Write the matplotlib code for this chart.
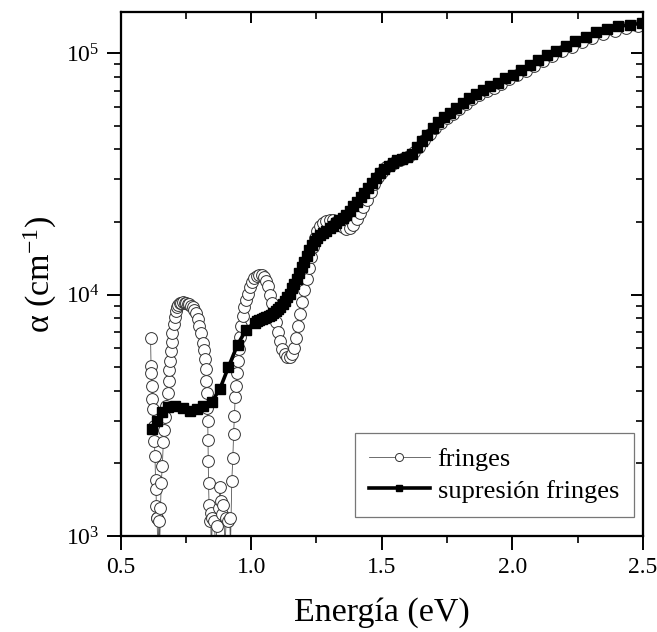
import matplotlib
matplotlib.use("Agg")
import matplotlib.pyplot as plt
from matplotlib.ticker import MultipleLocator, LogLocator, NullFormatter

plt.rcParams['font.family'] = ['Liberation Serif', 'DejaVu Serif']
plt.rcParams['mathtext.fontset'] = 'custom'
plt.rcParams['mathtext.rm'] = 'Liberation Serif'
plt.rcParams['mathtext.it'] = 'Liberation Serif:italic'
plt.rcParams['mathtext.bf'] = 'Liberation Serif:bold'

# ---- data: "fringes" (open circles) ----
fringes_E = [
    0.615, 0.617, 0.618, 0.620, 0.622, 0.624, 0.627, 0.630, 0.632, 0.634, 0.636, 0.637, 0.638,
    0.640, 0.643, 0.647, 0.650, 0.653, 0.656, 0.660, 0.664, 0.668, 0.672, 0.676, 0.680, 0.684,
    0.687, 0.690, 0.693, 0.696, 0.699, 0.703, 0.707, 0.712, 0.717, 0.722, 0.727, 0.733, 0.739,
    0.745, 0.751, 0.757, 0.763, 0.770, 0.776, 0.782, 0.788, 0.795, 0.801, 0.808, 0.815, 0.820,
    0.824, 0.827, 0.829, 0.831, 0.833, 0.834, 0.835, 0.836, 0.837, 0.839, 0.842, 0.845, 0.848,
    0.851, 0.858, 0.865, 0.869, 0.876, 0.881, 0.885, 0.888, 0.894, 0.900, 0.905, 0.912, 0.918,
    0.921, 0.926, 0.930, 0.933, 0.936, 0.939, 0.942, 0.945, 0.948, 0.952, 0.957, 0.962, 0.968,
    0.974, 0.981, 0.988, 0.995, 1.003, 1.012, 1.021, 1.030, 1.040, 1.049, 1.057, 1.065, 1.072,
    1.079, 1.087, 1.095, 1.103, 1.111, 1.120, 1.129, 1.138, 1.147, 1.156, 1.164, 1.172, 1.180,
    1.188, 1.196, 1.204, 1.212, 1.220, 1.228, 1.236, 1.245, 1.254, 1.264, 1.275, 1.287, 1.300,
    1.313, 1.326, 1.339, 1.352, 1.365, 1.378, 1.391, 1.404, 1.417, 1.430, 1.444, 1.458, 1.472,
    1.487, 1.502, 1.518, 1.534, 1.551, 1.568, 1.586, 1.604, 1.623, 1.642, 1.662, 1.683, 1.704,
    1.726, 1.749, 1.772, 1.796, 1.821, 1.847, 1.873, 1.901, 1.929, 1.958, 1.988, 2.019, 2.051,
    2.084, 2.118, 2.153, 2.189, 2.227, 2.266, 2.306, 2.348, 2.391, 2.436, 2.480,
]
fringes_alpha = [
    6600, 5050, 4750, 4200, 3700, 3350, 2860, 2480, 2150, 1700, 1560, 1330, 1190,
    1190, 850, 1150, 900, 1300, 1650, 1950, 2450, 2750, 3100, 3450, 3900, 4400,
    4850, 5300, 5850, 6350, 6950, 7550, 8100, 8550, 8850, 9050, 9200, 9250, 9300,
    9250, 9200, 9150, 9100, 9000, 8900, 8650, 8350, 7900, 7400, 6900, 6300, 5900,
    5400, 4900, 4400, 3900, 3400, 3000, 2500, 2050, 1650, 1350, 1150, 1250, 800,
    1190, 1150, 900, 1100, 1300, 1590, 1400, 1230, 1350, 900, 1190, 1150, 1190,
    900, 1690, 2110, 2650, 3150, 3750, 4200, 4750, 5300, 5950, 6650, 7400, 8150,
    8850, 9450, 10100, 10700, 11300, 11700, 11900, 12000, 12000, 11800, 11400, 10800, 10000,
    9200, 8400, 7700, 7000, 6400, 5950, 5650, 5500, 5500, 5650, 6000, 6600, 7400,
    8300, 9300, 10400, 11600, 12900, 14300, 15700, 17100, 18300, 19200, 19800, 20200, 20400,
    20300, 20000, 19500, 19000, 18700, 18800, 19500, 20600, 21800, 23000, 24700, 26600, 28600,
    30600, 32300, 33600, 34500, 35300, 36000, 36800, 37500, 39000, 41000, 43500, 46300, 49000,
    51500, 53800, 56000, 58500, 61500, 64300, 67000, 69500, 72000, 74800, 77800, 81000, 84700,
    88800, 93000, 97500, 102000, 106500, 111500, 116000, 120500, 124000, 127000, 129500,
]

# ---- data: "supresión fringes" (filled squares) ----
supr_E = [
    0.620, 0.641, 0.660, 0.683, 0.709, 0.741, 0.766, 0.792, 0.817, 0.850, 0.881, 0.913, 0.948,
    0.981, 1.013, 1.022, 1.031, 1.040, 1.049, 1.058, 1.067, 1.076, 1.085, 1.094, 1.103, 1.112,
    1.121, 1.130, 1.139, 1.148, 1.157, 1.166, 1.175, 1.184, 1.193, 1.202, 1.212, 1.222, 1.232,
    1.243, 1.254, 1.265, 1.276, 1.288, 1.300, 1.312, 1.325, 1.338, 1.351, 1.364, 1.377, 1.391,
    1.405, 1.419, 1.433, 1.448, 1.463, 1.478, 1.494, 1.510, 1.526, 1.543, 1.560, 1.578, 1.596,
    1.615, 1.634, 1.654, 1.674, 1.695, 1.717, 1.739, 1.762, 1.786, 1.810, 1.835, 1.861, 1.888,
    1.915, 1.944, 1.973, 2.003, 2.034, 2.066, 2.099, 2.133, 2.168, 2.204, 2.241, 2.280, 2.320,
    2.362, 2.405, 2.450, 2.496,
]
supr_alpha = [
    2770, 3000, 3250, 3420, 3460, 3400, 3300, 3360, 3460, 3600, 4080, 5000, 6200,
    7150, 7650, 7750, 7850, 7920, 8000, 8050, 8150, 8250, 8400, 8550, 8700, 8900,
    9100, 9400, 9750, 10100, 10600, 11100, 11600, 12300, 13000, 13700, 14500, 15300, 16000,
    16700, 17200, 17600, 18000, 18400, 18800, 19300, 19800, 20300, 20800, 21400, 22200, 23200,
    24200, 25300, 26400, 27600, 28900, 30300, 31800, 33100, 34200, 35100, 36000, 36500, 37300,
    38300, 40800, 43200, 46000, 49000, 51800, 54300, 56500, 59000, 62000, 65000, 67800, 70500,
    73000, 75500, 78500, 81500, 85000, 89000, 93500, 98000, 102500, 107000, 112000, 117000, 122000,
    126000, 129000, 131000, 133000,
]

x_ticks = [0.5, 1.0, 1.5, 2.0, 2.5]
x_ticklabels = ['0.5', '1.0', '1.5', '2.0', '2.5']
y_ticks = [1e3, 1e4, 1e5]
y_ticklabels = ['$10^{3}$', '$10^{4}$', '$10^{5}$']

W, H = 657, 632
fig = plt.figure(figsize=(W / 100, H / 100), dpi=100)
L, R, T, B = 120.5, 643.0, 12.0, 536.0
ax = fig.add_axes([L / W, 1 - B / H, (R - L) / W, (B - T) / H])

ax.plot(fringes_E, fringes_alpha, '-', color='#555555', lw=0.6,
        marker='o', markersize=8.5, markerfacecolor='white',
        markeredgecolor='#333333', markeredgewidth=0.7, label='fringes', zorder=2)
ax.plot(supr_E, supr_alpha, '-', color='black', lw=2.6,
        marker='s', markersize=7.0, markerfacecolor='black',
        markeredgecolor='black', label='supresión fringes', zorder=3)

ax.set_yscale('log')
ax.set_xlim(0.5, 2.5)
ax.set_ylim(1e3, 1.48e5)
ax.set_xticks(x_ticks)
ax.set_xticklabels(x_ticklabels)
ax.xaxis.set_minor_locator(MultipleLocator(0.25))
ax.set_yticks(y_ticks)
ax.set_yticklabels(y_ticklabels)
ax.yaxis.set_minor_locator(LogLocator(base=10, subs=[2, 3, 4, 5, 6, 7, 8, 9]))
ax.yaxis.set_minor_formatter(NullFormatter())

for sp in ax.spines.values():
    sp.set_linewidth(1.5)

ax.tick_params(axis='both', which='major', direction='out', length=10, width=1.4,
               labelsize=17, pad=5)
ax.tick_params(axis='both', which='minor', direction='out', length=5, width=1.2)
ax.tick_params(axis='x', which='major', pad=5)

# top and right ticks pointing inward
axt = ax.twiny()
axt.set_xlim(ax.get_xlim())
axt.set_xticks(x_ticks)
axt.xaxis.set_minor_locator(MultipleLocator(0.25))
axt.tick_params(axis='x', which='major', direction='in', length=8, width=1.4, labeltop=False)
axt.tick_params(axis='x', which='minor', direction='in', length=5, width=1.2)
axr = ax.twinx()
axr.set_yscale('log')
axr.set_ylim(ax.get_ylim())
axr.set_yticks(y_ticks)
axr.yaxis.set_minor_locator(LogLocator(base=10, subs=[2, 3, 4, 5, 6, 7, 8, 9]))
axr.yaxis.set_minor_formatter(NullFormatter())
axr.tick_params(axis='y', which='major', direction='in', length=9, width=1.4, labelright=False)
axr.tick_params(axis='y', which='minor', direction='in', length=5, width=1.2)
for a in (axt, axr):
    for sp in a.spines.values():
        sp.set_linewidth(1.5)

ax.set_xlabel('Energía (eV)', fontsize=24.5, labelpad=14)
ax.set_ylabel('α (cm$^{-1}$)', fontsize=24.5, labelpad=5)

leg = ax.legend(loc='lower right', bbox_to_anchor=(0.982, 0.036), borderaxespad=0,
                fontsize=19, frameon=True, fancybox=False, edgecolor='#555555',
                handlelength=2.3, handletextpad=0.3, labelspacing=0.3,
                borderpad=0.55, markerscale=0.68)
leg.get_frame().set_linewidth(0.9)
leg.set_zorder(10)

fig.savefig('out.png', dpi=100)
